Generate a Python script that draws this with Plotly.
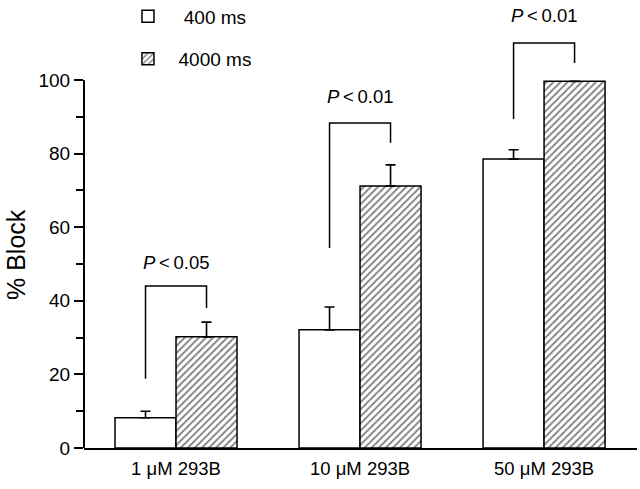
import plotly.graph_objects as go

categories = ["1 \u03bcM 293B", "10 \u03bcM 293B", "50 \u03bcM 293B"]
series_names = ["400 ms", "4000 ms"]
block_400 = [8.2, 32.1, 78.5]
err_400 = [1.8, 6.2, 2.5]
block_4000 = [30.2, 71.2, 99.6]
err_4000 = [4.0, 5.7, 0.0]
y_ticks = [0, 20, 40, 60, 80, 100]
y_minor = [10, 30, 50, 70, 90]
p_labels = ["P < 0.05", "P < 0.01", "P < 0.01"]
bracket_left_bottom = [18.8, 54.3, 89.4]
bracket_top = [44.0, 88.3, 110.0]
bracket_right_bottom = [38.0, 82.9, 104.6]
label_y = [50.5, 95.4, 117.4]
y_title = "% Block"

xpos = list(range(len(categories)))
FONT = "Liberation Sans, Arial, sans-serif"
bar_w = 0.3315

fig = go.Figure()
fig.add_trace(go.Bar(
    x=xpos, y=block_400, name="\u00a0\u00a0\u00a0" + series_names[0], width=bar_w, offset=-bar_w,
    marker=dict(color="white", line=dict(color="black", width=1.5)),
    error_y=dict(type="data", array=err_400, arrayminus=[0]*3, symmetric=False,
                 color="black", thickness=1.6, width=5),
    legendgroup="g0",
))
fig.add_trace(go.Bar(
    x=xpos, y=block_4000, name="\u00a0\u00a0" + series_names[1], width=bar_w, offset=0,
    marker=dict(color="white", line=dict(color="black", width=1.5),
                pattern=dict(shape="/", size=5, solidity=0.35, fgcolor="#000", bgcolor="white")),
    error_y=dict(type="data", array=err_4000, arrayminus=[0]*3, symmetric=False,
                 color="black", thickness=1.6, width=5),
    legendgroup="g1",
))

shapes = []
annotations = []
for i in xpos:
    xl = i - bar_w / 2
    xr = i + bar_w / 2
    shapes.append(dict(type="path", xref="x", yref="y",
                       path=f"M{xl},{bracket_left_bottom[i]} L{xl},{bracket_top[i]} L{xr},{bracket_top[i]} L{xr},{bracket_right_bottom[i]}",
                       line=dict(color="black", width=1.5)))
    lab = p_labels[i].replace("P", "<i>P</i>").replace(" ", "\u2009")
    annotations.append(dict(x=i, y=label_y[i], xref="x", yref="y", text=lab, showarrow=False,
                            font=dict(family=FONT, size=18.5, color="black")))

annotations.append(dict(x=-0.123, y=52.7, xref="paper", yref="y", text=y_title, textangle=-90,
                        showarrow=False, xanchor="center", yanchor="middle",
                        font=dict(family=FONT, size=25, color="black")))

# y axis line from 0 to 100
shapes.append(dict(type="line", xref="paper", yref="y", x0=0, x1=0, y0=0, y1=100,
                   line=dict(color="black", width=2)))

fig.update_layout(
    width=640, height=489,
    margin=dict(l=84, r=3, t=0, b=41, autoexpand=False),
    paper_bgcolor="white", plot_bgcolor="white",
    barmode="overlay",
    font=dict(family=FONT, color="black"),
    showlegend=True,
    legend=dict(x=0.0795, y=1.006, xanchor="left", yanchor="top",
                font=dict(family=FONT, size=19, color="black"),
                bgcolor="rgba(0,0,0,0)", traceorder="grouped", tracegroupgap=15,
                itemwidth=30),
    shapes=shapes, annotations=annotations,
    xaxis=dict(range=[-0.5, 2.505], tickvals=xpos, ticktext=categories,
               showline=True, linecolor="black", linewidth=2, showgrid=False, zeroline=False,
               ticks="outside", ticklen=3, tickcolor="rgba(0,0,0,0)",
               tickfont=dict(family=FONT, size=18.5, color="black")),
    yaxis=dict(range=[0, 121.7], tickvals=y_ticks, showline=False, showgrid=False, zeroline=False,
               ticks="outside", ticklen=9, tickwidth=1.5, tickcolor="black",
               tickfont=dict(family=FONT, size=19, color="black"),
               minor=dict(tickvals=y_minor, ticks="outside", ticklen=7, tickwidth=1.5, tickcolor="black")),
)

fig.write_html("out.html", config={"displayModeBar": False},
               post_script="document.body.style.margin='0';")
